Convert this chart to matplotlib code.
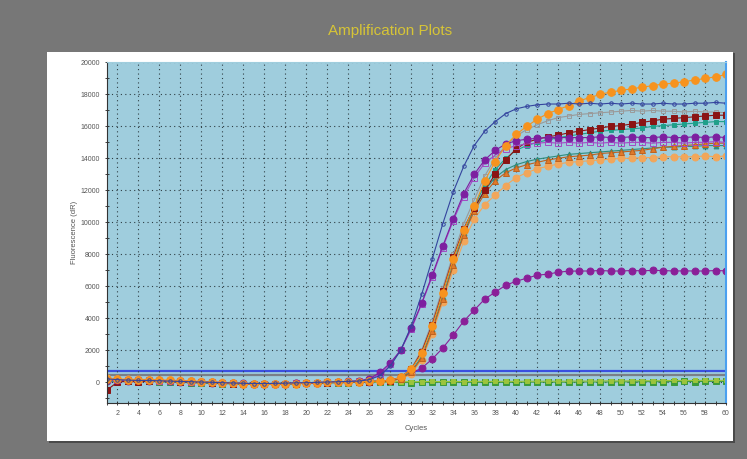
import matplotlib.pyplot as plt
from matplotlib.patches import Rectangle
from matplotlib.ticker import MultipleLocator

plt.rcParams['font.family'] = ['Liberation Sans', 'DejaVu Sans']

# Data (fluorescence dR per cycle)
cycles = list(range(1, 61))

navy = [200, 150, 120, 100, 100, 80, 60, 40, 20, 0, -20, -40, -60, -80, -90, -90, -80, -70, -50, -40, -20, 0, 20, 40, 60,
        150, 400, 1000, 2000, 3500, 5500, 7700, 9900, 11900, 13500,
        14800, 15700, 16300, 16800, 17100, 17250, 17350, 17400, 17400, 17450,
        17400, 17450, 17400, 17450, 17400, 17450, 17400, 17400, 17450, 17400,
        17400, 17450, 17450, 17500, 17450]
purple = [100, 150, 120, 100, 120, 100, 80, 60, 40, 20, 0, -30, -60, -80, -100, -110, -100, -90, -70, -50, -30, -10, 10, 40, 80,
          200, 600, 1200, 2000, 3400, 4950, 6700, 8500, 10200, 11800,
          13000, 13900, 14500, 14900, 15100, 15200, 15250, 15300, 15300, 15300,
          15300, 15300, 15350, 15300, 15300, 15350, 15300, 15300, 15350, 15300,
          15300, 15350, 15300, 15350, 15300]
violet = [150, 100, 100, 120, 100, 90, 70, 50, 30, 10, -10, -40, -70, -90, -110, -120, -110, -90, -70, -50, -30, -10, 10, 30, 60,
          150, 500, 1100, 2000, 3300, 4900, 6600, 8400, 10100, 11600,
          12800, 13700, 14200, 14600, 14800, 14900, 14950, 15000, 14950, 15000,
          14950, 15000, 14950, 15000, 14950, 15000, 15000, 14950, 15000, 15000,
          14950, 15000, 15000, 15050, 15000]
orange = [200, 180, 150, 160, 140, 130, 100, 80, 60, 30, 0, -40, -80, -110, -130, -140, -130, -110, -90, -60, -40, -20, 0, 10, 30,
          40, 60, 100, 300, 800, 1800, 3500, 5600, 7700, 9500,
          11000, 12600, 13800, 14800, 15500, 16000, 16450, 16800, 17050, 17300,
          17600, 17800, 18000, 18150, 18250, 18350, 18450, 18550, 18650, 18700,
          18800, 18900, 19000, 19100, 19250]
darkred = [-500, 0, 50, 0, 80, 60, 40, 20, 0, -20, -40, -60, -90, -120, -140, -150, -140, -120, -100, -80, -60, -40, -20, 0, 20,
           30, 50, 90, 300, 800, 1900, 3600, 5700, 7800, 9600,
           10900, 12000, 13000, 13900, 14600, 15000, 15200, 15350, 15450, 15600,
           15700, 15800, 15900, 16000, 16050, 16150, 16250, 16350, 16450, 16500,
           16550, 16600, 16650, 16700, 16700]
gray = [100, 100, 80, 90, 80, 70, 50, 30, 10, 0, -20, -50, -80, -100, -120, -130, -120, -100, -80, -60, -40, -20, 0, 20, 40,
        50, 70, 110, 320, 850, 2000, 3800, 5900, 8000, 9900,
        11400, 12900, 14000, 14800, 15400, 15800, 16100, 16350, 16550, 16650,
        16750, 16800, 16850, 16900, 16950, 17000, 16950, 17000, 16950, 16950,
        16900, 16950, 16900, 16900, 16850]
teal = [50, 80, 60, 70, 60, 50, 40, 20, 0, -20, -40, -60, -80, -100, -120, -130, -120, -110, -90, -70, -50, -30, -10, 10, 30,
        40, 60, 100, 300, 800, 1900, 3600, 5600, 7700, 9500,
        11000, 12300, 13300, 14000, 14500, 14800, 15000, 15150, 15300, 15400,
        15500, 15600, 15700, 15750, 15800, 15850, 15900, 16000, 16050, 16100,
        16150, 16200, 16250, 16300, 16300]
brown = [100, 120, 100, 110, 100, 90, 70, 50, 30, 10, -10, -40, -70, -100, -120, -130, -120, -100, -80, -60, -40, -20, 0, 20, 30,
         40, 50, 80, 200, 600, 1500, 3200, 5200, 7300, 9200,
         10700, 11800, 12600, 13100, 13400, 13600, 13750, 13900, 14000, 14100,
         14150, 14200, 14300, 14350, 14400, 14450, 14500, 14600, 14700, 14750,
         14800, 14850, 14900, 14950, 14950]
teal2 = [80, 60, 70, 60, 50, 40, 30, 10, -10, -30, -50, -70, -90, -110, -130, -140, -130, -110, -90, -70, -50, -30, -10, 10, 30,
         40, 50, 80, 220, 650, 1600, 3300, 5300, 7400, 9300,
         10800, 12000, 12800, 13300, 13600, 13800, 13950, 14050, 14150, 14250,
         14300, 14350, 14400, 14450, 14500, 14550, 14600, 14650, 14700, 14700,
         14750, 14750, 14800, 14800, 14800]
tan = [250, 200, 180, 170, 160, 140, 120, 100, 70, 40, 10, -20, -60, -90, -110, -120, -110, -100, -80, -60, -40, -20, 0, 20, 40,
       50, 60, 80, 180, 500, 1400, 3000, 5000, 7000, 8800,
       10200, 11100, 11700, 12300, 12800, 13100, 13350, 13500, 13650, 13750,
       13800, 13850, 13900, 13950, 14000, 14000, 14050, 14050, 14100, 14100,
       14100, 14100, 14150, 14100, 14150]
lowpurple = [50, 80, 60, 70, 60, 50, 40, 20, 0, -20, -40, -60, -80, -100, -110, -120, -110, -100, -80, -60, -40, -20, 0, 10, 20,
             30, 50, 100, 300, 560, 875, 1440, 2125, 2940, 3810,
             4500, 5190, 5625, 6060, 6310, 6500, 6690, 6750, 6875, 6940,
             6950, 6950, 6980, 6950, 6950, 6980, 6960, 6990, 6980, 6950,
             6960, 6950, 6950, 6980, 6960]
green = [150, 100, 80, 60, 40, 20, 0, -20, -40, -60, -80, -100, -110, -120, -120, -110, -100, -90, -80, -70, -60, -50, -40, -30, -20,
         -10, 0, 0, -20, -30, -20, -10, -20, -10, -20,
         -10, -20, -10, -20, -10, -10, 0, -10, 0, -10,
         0, 10, 0, 10, 20, 10, 20, 30, 20, 30,
         40, 30, 40, 50, 40]
lime = [200, 150, 120, 100, 80, 60, 40, 20, 0, -20, -40, -60, -80, -90, -100, -100, -90, -80, -70, -60, -50, -40, -30, -20, -10,
        0, 10, 20, 30, 20, 30, 40, 30, 40, 30,
        40, 50, 40, 50, 40, 60, 50, 60, 50, 60,
        70, 60, 70, 80, 70, 80, 90, 80, 90, 100,
        90, 100, 110, 100, 110]

threshold_blue = 720
threshold_gray = 450

series = [
    (green, '#3c9a3c', 's', 4.5, '#3c9a3c'),
    (lime, '#9cc43c', 's', 3.5, '#9cc43c'),
    (lowpurple, '#8a1f98', 'o', 5, '#8a1f98'),
    (tan, '#f2a65a', 'o', 5, '#f2a65a'),
    (teal2, '#2e8c7c', '^', 3.5, '#2e8c7c'),
    (brown, '#c0621e', '^', 4, '#e07a2a'),
    (teal, '#1f9f8a', 's', 3.5, '#1f9f8a'),
    (gray, '#9a9a9a', 's', 3.5, 'none'),
    (darkred, '#8b1414', 's', 4.5, '#8b1414'),
    (violet, '#a24ac4', 's', 4, 'none'),
    (purple, '#7d1fa0', 'o', 5, '#7d1fa0'),
    (orange, '#f7931e', 'o', 5.5, '#f7931e'),
    (navy, '#34449e', 'o', 2.5, 'none'),
]

fig = plt.figure(figsize=(7.47, 4.59), dpi=100, facecolor='#777777')
fig.patches.append(Rectangle((49 / 747, 1 - 443 / 459), 686 / 747, 390 / 459,
                             transform=fig.transFigure, facecolor='#4a4a4a', edgecolor='none', zorder=-10))
fig.patches.append(Rectangle((47 / 747, 1 - 441 / 459), 686 / 747, 389 / 459,
                             transform=fig.transFigure, facecolor='white', edgecolor='none', zorder=-9))
fig.text(0.522, 0.933, 'Amplification Plots', color='#d6c437', fontsize=11, ha='center', va='center')

ax = fig.add_axes([107 / 747, 1 - 403 / 459, 619 / 747, 341 / 459])
ax.set_facecolor('#9fcddd')

for vals, col, mk, ms, fc in series:
    ax.plot(cycles, vals, color=col, linewidth=0.8, marker=mk, markersize=ms,
            markerfacecolor=fc, markeredgecolor=col, markeredgewidth=0.7)

ax.axhline(threshold_gray, color='#7a7f88', linewidth=1.6, zorder=1)
ax.axhline(threshold_blue, color='#3a4fe0', linewidth=1.6, zorder=1)

ax.set_xlim(1, 60)
ax.set_ylim(-1310, 20030)
ax.xaxis.set_major_locator(MultipleLocator(2))
ax.xaxis.set_minor_locator(MultipleLocator(1))
ax.yaxis.set_major_locator(MultipleLocator(2000))
ax.yaxis.set_minor_locator(MultipleLocator(1000))
ax.set_xticks(list(range(2, 61, 2)))
ax.tick_params(axis='both', which='both', labelsize=5, labelcolor='#555555', color='#222222',
               direction='inout', length=3, width=0.6)
ax.tick_params(axis='both', which='minor', length=2.5)
ax.grid(which='major', linestyle=(0, (1, 3)), color='#2e3e44', linewidth=0.8)

ax.set_xlabel('Cycles', fontsize=5.5, color='#555555', labelpad=6)
ax.set_ylabel('Fluorescence (dR)', fontsize=5.5, color='#555555', labelpad=2)

ax.spines['top'].set_color('#9fcddd')
ax.spines['right'].set_color('#4aa0f0')
ax.spines['right'].set_linewidth(1.5)
ax.spines['left'].set_color('#333333')
ax.spines['bottom'].set_color('#333333')

fig.savefig('out.png', dpi=100, facecolor=fig.get_facecolor())
